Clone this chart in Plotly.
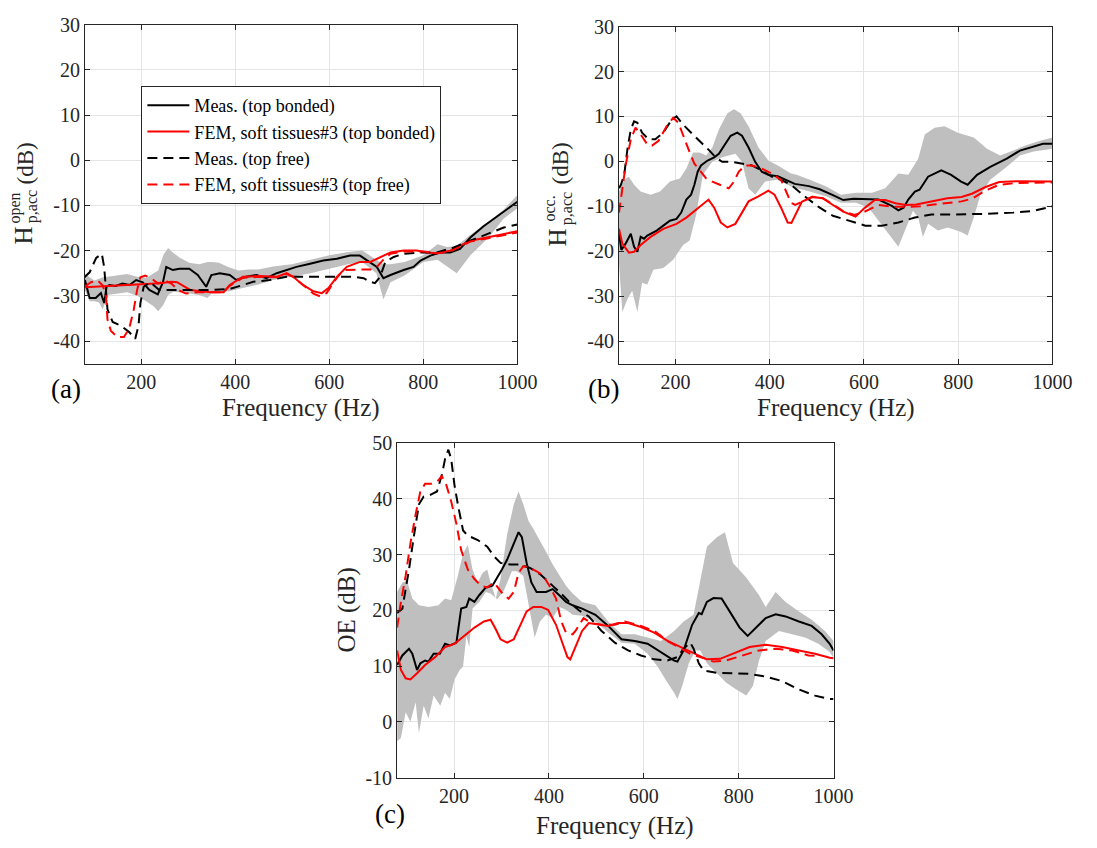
import plotly.graph_objects as go

# ---------------- data: panel (a) ----------------
a_mb_f = [80, 90, 103, 114, 121, 126, 132, 145, 160, 175, 189, 203, 217, 235, 246, 253, 267, 281, 302, 320, 338, 349, 367, 388, 402, 423, 445, 466, 488, 509, 530, 559, 587, 616, 644, 665, 680, 701, 715, 730, 758, 779, 794, 815, 836, 857, 878, 900, 928, 957, 978, 1000]
a_mb_v = [-26.5, -30.5, -30.5, -29.4, -31.6, -28, -27.6, -27.8, -27.3, -27.6, -26.5, -27, -28.7, -29.7, -27, -23.6, -24.3, -24, -24, -25.4, -28, -25.4, -25, -25.4, -26.5, -25.8, -25.4, -26.1, -25, -24.3, -23.6, -22.9, -22.2, -21.8, -21.1, -21.1, -22.2, -23.6, -26.1, -25.4, -24.3, -23.6, -22.2, -21.1, -20.4, -20.4, -19.6, -17.1, -14.6, -12.4, -11, -9.2]
a_fb_f = [80, 120, 189, 240, 264, 276, 304, 347, 375, 388, 416, 452, 488, 509, 523, 544, 566, 584, 598, 616, 637, 665, 687, 708, 730, 758, 786, 807, 828, 857, 900, 935, 971, 1000]
a_fb_v = [-28.1, -27.9, -27.6, -27.2, -26.9, -27.0, -28.7, -29.2, -29.2, -27.6, -25.8, -25.6, -25.8, -25, -25.8, -27.6, -29, -29.4, -28.3, -25.8, -23.6, -22.5, -22.5, -21.4, -20.4, -20, -20, -20.4, -20.6, -20, -17.8, -17.1, -16.4, -15.7]
a_mf_f = [79, 90, 104, 116, 121, 125, 128, 139, 156, 174, 187, 194, 198, 205, 219, 238, 282, 347, 388, 438, 473, 509, 544, 580, 616, 651, 673, 687, 697, 708, 719, 737, 758, 794, 829, 865, 900, 935, 971, 1000]
a_mf_v = [-25.9, -24.8, -21.6, -20.7, -23.7, -28.7, -33, -35.8, -36.6, -38, -39.5, -36.6, -31.6, -28, -27, -28.7, -28.7, -28.7, -28.5, -26.9, -26.5, -25.8, -25.8, -25.8, -25.8, -25.8, -26.1, -26.9, -27.2, -25.8, -22.5, -21.4, -20.7, -20.4, -20.4, -19.3, -17.8, -16.4, -14.9, -14.2]
a_ff_f = [79, 93, 107, 118, 125, 128, 135, 149, 163, 174, 184, 191, 198, 208, 222, 236, 250, 264, 278, 295, 320, 347, 375, 388, 416, 452, 488, 509, 523, 544, 566, 580, 594, 616, 630, 658, 687, 701, 715, 730, 758, 800, 829, 857, 900, 935, 971, 1000]
a_ff_v = [-28, -27, -26.6, -27.7, -30.2, -35.2, -37.7, -39.1, -39.1, -37.3, -33, -28.7, -25.9, -25.5, -26.2, -27.3, -26.6, -27.3, -28.7, -29.5, -29.2, -29.2, -29.2, -27.8, -26, -25.8, -25.9, -25.2, -25.8, -27.6, -29.5, -30.1, -29.4, -26, -24.3, -24.2, -24.2, -23.6, -22, -20.7, -20.2, -20.2, -20.6, -20.2, -18, -17.3, -16.6, -16]
a_band_f = [80, 90, 100, 110, 118, 128, 149, 170, 191, 212, 226, 236, 247, 257, 268, 282, 302, 323, 341, 351, 365, 386, 407, 428, 449, 480, 520, 560, 600, 640, 670, 700, 715, 730, 760, 800, 830, 850, 871, 900, 940, 970, 1000]
a_band_hi = [-25.2, -26, -26.6, -26.2, -25.9, -25.8, -25.5, -25.2, -25.8, -26, -25, -24.4, -20.9, -19.4, -20.5, -21.6, -22.7, -23, -22.5, -22.5, -22.7, -23.7, -24.4, -24.2, -24.2, -23.5, -23, -22, -21, -20.3, -20, -22, -23, -23, -22.5, -21, -18.6, -19.2, -19.0, -16.5, -13.5, -11, -7.7]
a_band_lo = [-28.7, -31.2, -31.2, -31.5, -33, -29.8, -29.5, -29.2, -30, -31.3, -32.3, -33.4, -32, -29.8, -29.1, -29.2, -29.5, -29.8, -30.5, -29.2, -29.2, -29, -28.5, -28, -27.5, -26.5, -25.8, -25, -24, -23, -22.5, -25, -30.8, -27, -25.5, -22.5, -22, -23.5, -25, -21, -17, -13, -10.6]

# ---------------- data: panel (b) ----------------
b_mb_f = [80, 85, 94, 105, 112, 119, 126, 133, 140, 160, 174, 188, 202, 212, 223, 233, 240, 247, 254, 268, 282, 292, 303, 317, 331, 341, 355, 369, 383, 397, 417, 445, 453, 483, 506, 534, 556, 578, 600, 631, 659, 673, 684, 694, 708, 718, 736, 764, 785, 806, 820, 840, 868, 903, 931, 960, 980, 1000]
b_mb_v = [-16.1, -19.7, -18.3, -16.1, -19, -20.1, -16.8, -17.2, -16.5, -15.4, -14.3, -13.2, -12.8, -11.4, -8.5, -7.4, -5.2, -2.3, -0.9, 0.2, 0.9, 1.7, 3.5, 5.7, 6.4, 5.7, 3.1, -0.1, -2.3, -3, -3.3, -4.6, -5.0, -5.5, -6.2, -7.5, -8.6, -8.3, -8.4, -8.5, -9.9, -10.9, -10.3, -8.5, -6.7, -6.3, -3.4, -2, -3, -4.5, -5.2, -3, -1.2, 0.6, 2.4, 3.3, 3.9, 3.9]
b_fb_f = [80, 87, 101, 112, 126, 147, 174, 202, 223, 244, 270, 282, 296, 310, 327, 341, 355, 376, 397, 410, 424, 438, 446, 468, 490, 512, 534, 556, 582, 601, 623, 645, 667, 689, 711, 740, 777, 807, 829, 858, 887, 924, 961, 1000]
b_fb_v = [-15, -18.3, -20.3, -20.1, -18.6, -16.8, -15, -13.9, -12.5, -10.7, -8.5, -10.3, -13.6, -14.7, -13.9, -11.4, -8.9, -7.8, -6.5, -7.4, -10.3, -13.6, -13.7, -9, -7.9, -8.2, -9.7, -11.2, -12.3, -10.4, -8.6, -8.6, -9.3, -9.7, -9.6, -9, -8.2, -7.9, -7.2, -5.7, -4.6, -4.4, -4.5, -4.5]
b_mf_f = [80, 84, 91, 98, 105, 112, 119, 129, 143, 157, 174, 192, 202, 216, 230, 251, 272, 285, 299, 320, 341, 362, 383, 404, 424, 445, 478, 506, 534, 569, 603, 638, 673, 708, 743, 792, 847, 917, 960, 1000]
b_mf_v = [-6, -5.2, -3, 2.8, 7.1, 8.9, 8.6, 6.4, 4.9, 4.9, 6.4, 9.3, 10, 8.2, 6.7, 4.6, 2.4, 0.9, -0.1, -0.1, -0.5, -0.9, -2, -3.4, -4.1, -5.2, -8.1, -10.3, -12.1, -13.2, -14.3, -14.3, -13.6, -12.5, -11.8, -11.8, -11.7, -11.4, -11, -10]
b_ff_f = [80, 84, 94, 105, 115, 126, 140, 150, 164, 181, 195, 206, 216, 230, 240, 251, 265, 278, 296, 313, 324, 334, 348, 362, 383, 404, 424, 438, 445, 454, 469, 491, 513, 536, 558, 580, 601, 630, 660, 689, 719, 748, 777, 807, 829, 858, 887, 924, 1000]
b_ff_v = [-11.4, -8.1, -0.9, 4.9, 7.5, 6, 3.8, 3.5, 4.6, 7.8, 9.7, 8.6, 5.7, 2, -0.5, -2, -3.8, -4.5, -5.2, -6, -4.5, -2.3, -0.9, -0.9, -1.6, -2.7, -4.1, -7.4, -9.2, -9.7, -9, -7.9, -8.2, -9.7, -11.2, -11.9, -11.2, -9.7, -10.1, -10.1, -10, -9.6, -9.3, -8.9, -8.3, -6.5, -5.2, -4.8, -4.7]
b_hi_f = [80, 91, 101, 112, 126, 147, 167, 188, 209, 223, 237, 251, 265, 278, 292, 310, 324, 338, 355, 376, 397, 417, 445, 457, 485, 520, 551, 583, 617, 645, 673, 694, 715, 729, 750, 771, 799, 833, 861, 889, 917, 941, 970, 1000]
b_hi_v = [-6.7, -4.1, -3.4, -5.2, -6.7, -7.4, -6.7, -4.5, -3.8, -1.6, 2, 2, 1.3, 3.1, 7.1, 10.7, 11.6, 10.7, 7.8, 3.1, 0.2, -0.9, -2.7, -3, -4.1, -5.6, -7.4, -7, -7, -6, -2.7, -3, 0.6, 6, 7.5, 7.8, 6.4, 5.3, 2.8, 1.3, 2.4, 3.5, 4.5, 5.3]
b_lo_f = [80, 87, 98, 108, 119, 129, 140, 153, 174, 195, 216, 230, 244, 258, 278, 299, 313, 327, 341, 355, 369, 390, 417, 445, 457, 485, 520, 551, 583, 610, 631, 652, 673, 687, 704, 715, 725, 736, 757, 778, 806, 820, 833, 847, 868, 903, 931, 960, 1000]
b_lo_v = [-22.6, -33.5, -30.6, -28.8, -33.5, -27, -27.4, -24.1, -23.7, -21.9, -18.6, -17.6, -11.8, -3, -0.1, 0.9, 1.3, 1.7, -0.1, -6, -7.4, -4.5, -4.1, -5.6, -6, -6.7, -7.8, -9.2, -9.2, -10.3, -13.2, -16.1, -19, -15.4, -11, -12.5, -16.8, -13.9, -15.4, -14.7, -15.7, -16.5, -12.5, -7.4, -4.1, -1.2, 1.3, 2.2, 2.8]

# ---------------- data: panel (c) ----------------
c_mb_f = [80, 91, 105, 112, 122, 129, 139, 146, 157, 170, 181, 191, 205, 215, 226, 232, 243, 253, 267, 281, 291, 301, 312, 326, 336, 343, 353, 363, 374, 394, 408, 422, 436, 450, 470, 498, 525, 553, 581, 608, 636, 664, 671, 684, 702, 716, 722, 733, 747, 764, 781, 802, 819, 837, 857, 878, 899, 927, 954, 975, 992, 1000]
c_mb_v = [10.2, 11.9, 13.1, 12.2, 9.3, 10.5, 11, 10.8, 12.2, 12.2, 14, 13.7, 14.2, 20.3, 20.6, 22.1, 21.5, 22.7, 24.1, 24.4, 25.9, 27.3, 29.1, 32, 34, 33.1, 28.5, 25, 23.3, 23.3, 23.8, 22.7, 21.5, 20.9, 20.3, 19.2, 17.2, 14.8, 14.5, 14, 12.5, 11, 10.8, 12.8, 17.4, 19.5, 19.3, 21.5, 22.2, 22.1, 19.8, 16.9, 15.4, 16.9, 18.6, 19.3, 18.9, 18, 17.2, 15.7, 14, 12.8]
c_fb_f = [80, 88, 98, 108, 122, 139, 160, 181, 201, 222, 243, 263, 277, 288, 298, 312, 326, 339, 353, 367, 384, 398, 415, 429, 439, 445, 456, 470, 484, 505, 525, 546, 567, 594, 622, 650, 678, 705, 733, 761, 788, 823, 857, 892, 927, 961, 992, 1000]
c_fb_v = [12.8, 9.3, 7.8, 7.6, 8.7, 10.2, 11.6, 13.4, 14, 15.4, 16.9, 18, 18.3, 16.6, 14.8, 14.2, 14.8, 17.2, 19.8, 20.6, 20.6, 20.1, 17.4, 14, 11.6, 11.2, 13.4, 16.3, 17.7, 17.4, 17.2, 17.7, 17.7, 17, 16, 14.5, 13.4, 12.2, 11.2, 11.3, 12.2, 13.4, 13.8, 13.4, 12.8, 12.2, 11.5, 11.4]
c_mf_f = [80, 91, 98, 105, 115, 126, 136, 150, 164, 174, 181, 188, 194, 201, 208, 219, 229, 250, 270, 284, 298, 319, 339, 360, 381, 401, 422, 443, 463, 484, 511, 539, 567, 594, 622, 650, 671, 684, 698, 705, 716, 726, 754, 788, 823, 857, 892, 927, 961, 992, 1000]
c_mf_v = [19.5, 20.3, 23.8, 27.3, 33.1, 39, 40.4, 40.7, 41.3, 44.2, 47.1, 48.8, 47.1, 42.4, 39, 34.3, 33.4, 32.6, 31.4, 29.7, 28.5, 28.2, 28.2, 27.6, 26.5, 25, 23.3, 21.5, 20, 18.9, 16.3, 14.2, 12.8, 11.9, 11.2, 11, 11.6, 13.1, 14.2, 13.1, 10.5, 9.2, 8.8, 8.7, 8.6, 8.1, 7.3, 5.8, 4.7, 4.1, 4.1]
c_ff_f = [80, 88, 98, 108, 119, 129, 139, 153, 167, 174, 184, 194, 205, 215, 229, 243, 257, 270, 284, 295, 305, 315, 326, 336, 346, 360, 374, 388, 401, 415, 426, 436, 450, 456, 473, 490, 511, 539, 560, 594, 622, 650, 678, 698, 719, 747, 774, 809, 843, 878, 913, 947, 968]
c_ff_v = [16.9, 21.5, 26.2, 32, 37.2, 41.3, 42.7, 42.7, 43.3, 44.1, 42.4, 39.5, 35.5, 30.8, 27.3, 25.6, 24.4, 24.1, 25, 23.8, 22.7, 22.1, 23.3, 26.7, 27.9, 27.6, 27, 26.2, 24.4, 22.1, 18, 16, 15.7, 16.3, 18.6, 17.7, 17.4, 17.4, 18, 17.2, 16.3, 14.5, 13.1, 12.2, 11.6, 10.8, 11, 11.9, 12.8, 13.1, 12.8, 11.9, 11.8]
c_hi_f = [80, 91, 101, 112, 126, 146, 167, 181, 194, 208, 219, 229, 239, 250, 260, 270, 277, 288, 298, 312, 326, 336, 346, 357, 367, 381, 394, 408, 422, 436, 450, 470, 498, 525, 553, 581, 608, 636, 664, 684, 705, 719, 733, 754, 771, 788, 816, 843, 857, 878, 899, 927, 954, 982, 1000]
c_hi_v = [23.3, 25, 25.3, 22.1, 20.9, 20.6, 20.9, 22.1, 21.8, 26.2, 30.2, 31.7, 27.3, 25, 26.7, 27.3, 25, 22.1, 25.6, 33.7, 39, 41.3, 39, 36, 34.6, 32.6, 30.5, 28.2, 26.2, 24.4, 23, 21.5, 20.9, 18, 15.7, 15.7, 15.1, 14.5, 16.3, 18, 19.2, 25.6, 31.4, 33.1, 34, 28.5, 25.9, 22.7, 20.6, 23.3, 21.5, 19.8, 18.3, 16.3, 14.5]
c_lo_f = [80, 88, 98, 108, 119, 126, 136, 146, 157, 171, 181, 191, 201, 212, 219, 226, 232, 239, 253, 267, 277, 291, 305, 322, 332, 346, 357, 364, 370, 381, 394, 408, 422, 436, 450, 470, 498, 525, 553, 581, 608, 629, 650, 664, 671, 681, 695, 709, 719, 733, 754, 774, 795, 816, 830, 843, 857, 885, 913, 940, 968, 992, 1000]
c_lo_v = [-3.5, -2.9, 1.7, 0, 3.5, -2, 2.9, 0.6, 4.7, 2.9, 5.2, 4.1, 7.6, 9.3, 9.9, 15.4, 13.4, 20.3, 21.5, 23.3, 23, 22, 23.5, 27, 27, 26.2, 21.5, 18, 15.1, 18, 19.2, 18.6, 20.6, 20.1, 19.2, 19, 18, 16, 14.2, 14, 12.2, 9.9, 7, 5.2, 4.1, 6.4, 10.5, 12.8, 12.8, 10.5, 8.7, 7, 5.8, 4.7, 6.4, 11, 14.5, 16.3, 15.7, 15.1, 14, 12.5, 11.5]

# ---------------- labels / ticks ----------------
series_names = ["Meas. (top bonded)", "FEM, soft tissues#3 (top bonded)",
                "Meas. (top free)", "FEM, soft tissues#3 (top free)"]
x_ticks = [200, 400, 600, 800, 1000]
x_ticktext = ["200", "400", "600", "800", "1000"]
y_ticks_ab = [-40, -30, -20, -10, 0, 10, 20, 30]
y_ticktext_ab = ["-40", "-30", "-20", "-10", "0", "10", "20", "30"]
y_ticks_c = [-10, 0, 10, 20, 30, 40, 50]
y_ticktext_c = ["-10", "0", "10", "20", "30", "40", "50"]
x_title = "Frequency (Hz)"
panel_labels = ["(a)", "(b)", "(c)"]

W, H = 1097, 848
FONT = "'Liberation Serif', 'Times New Roman', Times, serif"
TXT = "#262626"
GRAY = "#bfbfbf"
DASH = "10px,6px"


def px(x):
    return x / W


def py(y):
    return 1 - y / H


fig = go.Figure()

panels = [
    dict(xa="x", ya="y", band=(a_band_f, a_band_hi, a_band_f, a_band_lo),
         lines=[(a_mb_f, a_mb_v), (a_fb_f, a_fb_v), (a_mf_f, a_mf_v), (a_ff_f, a_ff_v)]),
    dict(xa="x2", ya="y2", band=(b_hi_f, b_hi_v, b_lo_f, b_lo_v),
         lines=[(b_mb_f, b_mb_v), (b_fb_f, b_fb_v), (b_mf_f, b_mf_v), (b_ff_f, b_ff_v)]),
    dict(xa="x3", ya="y3", band=(c_hi_f, c_hi_v, c_lo_f, c_lo_v),
         lines=[(c_mb_f, c_mb_v), (c_fb_f, c_fb_v), (c_mf_f, c_mf_v), (c_ff_f, c_ff_v)]),
]
styles = [("#000000", "solid"), ("#ff0000", "solid"), ("#000000", DASH), ("#ff0000", DASH)]

for pi, p in enumerate(panels):
    hf, hv, lf, lv = p["band"]
    fig.add_trace(go.Scatter(x=list(hf) + list(lf)[::-1], y=list(hv) + list(lv)[::-1],
                             fill="toself", fillcolor=GRAY, line=dict(width=0),
                             mode="lines", showlegend=False, hoverinfo="skip",
                             xaxis=p["xa"], yaxis=p["ya"]))
    for si, (f, v) in enumerate(p["lines"]):
        col, dash = styles[si]
        fig.add_trace(go.Scatter(x=f, y=v, mode="lines", name=series_names[si],
                                 line=dict(color=col, width=2, dash=dash),
                                 showlegend=(pi == 0), xaxis=p["xa"], yaxis=p["ya"]))


def xaxis(domain, anchor):
    return dict(domain=domain, anchor=anchor, range=[80, 1000], tickvals=x_ticks,
                ticktext=x_ticktext, ticks="inside", ticklen=5, tickcolor=TXT,
                showline=True, linecolor=TXT, linewidth=1, mirror="ticks",
                showgrid=True, gridcolor="#e4e4e4", gridwidth=1, zeroline=False,
                tickfont=dict(family=FONT, size=20, color=TXT))


def yaxis(domain, anchor, rng, tv, tt):
    return dict(domain=domain, anchor=anchor, range=rng, tickvals=tv, ticktext=tt,
                ticks="inside", ticklen=5, tickcolor=TXT,
                showline=True, linecolor=TXT, linewidth=1, mirror="ticks",
                showgrid=True, gridcolor="#e4e4e4", gridwidth=1, zeroline=False,
                tickfont=dict(family=FONT, size=20, color=TXT))


# plot areas in pixels (left, right, top, bottom)
A = (86.5, 527, 14, 362)
B = (630.5, 1072, 16, 362)
C = (404.5, 849, 443.5, 787)

fig.update_layout(
    width=W, height=H, margin=dict(l=0, r=0, t=0, b=0),
    paper_bgcolor="white", plot_bgcolor="white",
    xaxis=xaxis([px(A[0]), px(A[1])], "y"),
    yaxis=yaxis([py(A[3]), py(A[2])], "x", [-45, 30], y_ticks_ab, y_ticktext_ab),
    xaxis2=xaxis([px(B[0]), px(B[1])], "y2"),
    yaxis2=yaxis([py(B[3]), py(B[2])], "x2", [-45, 30], y_ticks_ab, y_ticktext_ab),
    xaxis3=xaxis([px(C[0]), px(C[1])], "y3"),
    yaxis3=yaxis([py(C[3]), py(C[2])], "x3", [-10, 50], y_ticks_c, y_ticktext_c),
    legend=dict(x=px(144), y=py(77), xanchor="left", yanchor="top",
                bgcolor="white", bordercolor=TXT, borderwidth=1,
                font=dict(family=FONT, size=18, color="#000000"),
                tracegroupgap=0, itemwidth=42),
    font=dict(family=FONT, color=TXT),
)

ann = []


def text(x, y, s, size, angle=0, color=TXT):
    ann.append(dict(x=px(x), y=py(y), xref="paper", yref="paper", text=s,
                    showarrow=False, xanchor="center", yanchor="middle",
                    textangle=angle, font=dict(family=FONT, size=size, color=color)))


# x-axis titles
text((A[0] + A[1]) / 2, 408, x_title, 25)
text((B[0] + B[1]) / 2, 408, x_title, 25)
text((C[0] + C[1]) / 2, 837, x_title, 25)
# panel labels
text(67, 388, panel_labels[0], 27, color="#000000")
text(615, 388, panel_labels[1], 27, color="#000000")
text(397, 824, panel_labels[2], 27, color="#000000")
# y-axis titles (a)
text(23, 231, "H", 25, -90)
text(15, 202, "open", 16, -90)
text(32, 201, "p,acc", 16, -90)
text(26, 157, "(dB)", 23, -90)
# y-axis titles (b)
text(568, 233, "H", 25, -90)
text(560, 203, "occ.", 16, -90)
text(577, 203, "p,acc", 16, -90)
text(571, 157, "(dB)", 23, -90)
# y-axis title (c)
text(353, 615, "OE (dB)", 25, -90)

fig.update_layout(annotations=ann)
fig.write_html("out.html")
